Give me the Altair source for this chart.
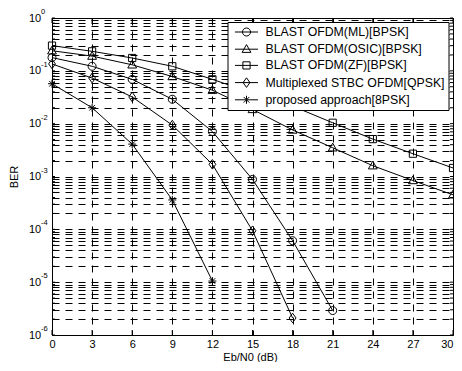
import altair as alt
import pandas as pd

# ---------------- data ----------------
snr = [0, 3, 6, 9, 12, 15, 18, 21, 24, 27, 30]

names = [
    "BLAST OFDM(ML)[BPSK]",
    "BLAST OFDM(OSIC)[BPSK]",
    "BLAST OFDM(ZF)[BPSK]",
    "Multiplexed STBC OFDM[QPSK]",
    "proposed approach[8PSK]",
]

ber_ml = [0.178, 0.122, 0.069, 0.029, 0.0071, 0.00088, 6.1e-5, 2.9e-6]
ber_osic = [0.24, 0.19, 0.13, 0.078, 0.043, 0.0186, 0.0076, 0.0035, 0.0016, 0.00084, 0.00045]
ber_zf = [0.30, 0.234, 0.175, 0.122, 0.069, 0.038, 0.0215, 0.0104, 0.0051, 0.0027, 0.00145]
ber_stbc = [0.135, 0.073, 0.032, 0.0094, 0.0017, 9.4e-5, 2.1e-6]
ber_prop = [0.057, 0.020, 0.0041, 0.00036, 1.05e-5]

x_ticks = [0, 3, 6, 9, 12, 15, 18, 21, 24, 27, 30]
decades = [1e-6, 1e-5, 1e-4, 1e-3, 1e-2, 1e-1, 1e0]
exponents = ["-6", "-5", "-4", "-3", "-2", "-1", "0"]
mantissas = [1, 2, 3, 4, 5, 6, 7, 8, 9]

# ---------------- tables ----------------
rows = []
for name, vals in zip(names, [ber_ml, ber_osic, ber_zf, ber_stbc, ber_prop]):
    for x, v in zip(snr, vals):
        rows.append({"snr": x, "ber": v, "name": name})
df = pd.DataFrame(rows)

y_grid = []
for d in decades:
    for m in mantissas:
        val = m * d
        if val <= 1.0000001:
            y_grid.append(val)
exp_df = pd.DataFrame({"v": decades, "e": exponents})
xt_df = pd.DataFrame({"t": x_ticks})
grid_minor = pd.DataFrame({"v": y_grid})

# marker paths (unit box [-1,1])
plot_paths = [
    "M-1,0A1,1,0,1,0,1,0A1,1,0,1,0,-1,0Z",
    "M0,-1.15L1.1,0.8L-1.1,0.8Z",
    "M-0.9,-0.9L0.9,-0.9L0.9,0.9L-0.9,0.9Z",
    "M0,-1.2L0.85,0L0,1.2L-0.85,0Z",
    "M-1,0L1,0M0,-1L0,1M-0.7,-0.7L0.7,0.7M-0.7,0.7L0.7,-0.7",
]
legend_paths = [
    "M-1.92,0L1.92,0M-0.67,0A0.67,0.67,0,1,0,0.67,0A0.67,0.67,0,1,0,-0.67,0Z",
    "M-1.92,0L1.92,0M0,-0.77L0.73,0.53L-0.73,0.53Z",
    "M-1.92,0L1.92,0M-0.6,-0.6L0.6,-0.6L0.6,0.6L-0.6,0.6Z",
    "M-1.92,0L1.92,0M0,-0.8L0.57,0L0,0.8L-0.57,0Z",
    "M-1.92,0L1.92,0M0,-0.67L0,0.67M-0.47,-0.47L0.47,0.47M-0.47,0.47L0.47,-0.47",
]

FONT = "Liberation Sans"
W, H = 401, 317

xscale = alt.Scale(domain=[0, 30], nice=False, zero=False)
yscale = alt.Scale(type="log", domain=[1e-6, 1], nice=False)

x_axis = alt.Axis(
    values=x_ticks, grid=True, gridColor="black", gridDash=[7, 6], gridWidth=1,
    gridOpacity=1, ticks=False, tickSize=0, domain=False, labelFont=FONT,
    labelFontSize=11, labelColor="black", labelPadding=3.5, labelFlush=False,
    labelAlign={"condition": {"test": "datum.value == 30", "value": "right"}, "value": "center"},
    title="Eb/N0 (dB)", titleFont=FONT, titleFontSize=11, titleFontWeight="normal",
    titleColor="black", titleX=198, titleY=22, titleBaseline="middle",
    titleAlign="center",
)
y_axis = alt.Axis(
    values=y_grid, grid=True, gridColor="black", gridDash=[7, 6], gridWidth=1,
    gridOpacity=1, ticks=False, tickSize=0, domain=False, labelFont=FONT,
    labelFontSize=11, labelColor="black", labelPadding=11.3, labelFlush=False,
    labelOverlap=False, labelBaseline="middle",
    labelExpr="abs(log(datum.value)/LN10 - round(log(datum.value)/LN10)) < 0.000001 ? '10' : ''",
    title="BER", titleFont=FONT, titleFontSize=11, titleFontWeight="normal",
    titleColor="black", titleX=-38, titleY=H / 2, titleBaseline="middle",
    titleAlign="center", titleAngle=-90,
)

base = alt.Chart(df)

lines = base.mark_line(color="black", strokeWidth=1).encode(
    x=alt.X("snr:Q", scale=xscale, axis=x_axis),
    y=alt.Y("ber:Q", scale=yscale, axis=y_axis),
    detail="name:N",
    order="snr:Q",
)

points = base.mark_point(filled=False, color="black", size=64, strokeWidth=1, opacity=1).encode(
    x=alt.X("snr:Q", scale=xscale),
    y=alt.Y("ber:Q", scale=yscale),
    shape=alt.Shape("name:N", scale=alt.Scale(domain=names, range=plot_paths), legend=None),
)

legend_layer = base.mark_point(filled=False, color="black", size=144, strokeWidth=1, opacity=1).encode(
    shape=alt.Shape(
        "name:N",
        scale=alt.Scale(domain=names, range=legend_paths),
        legend=alt.Legend(
            title=None, orient="none", legendX=175.5, legendY=4,
            fillColor="white", strokeColor="black", padding=3.5,
            symbolOffset=9, labelOffset=12.5, rowPadding=3.2,
            labelFont=FONT, labelFontSize=12.3, labelColor="black", labelLimit=400,
            symbolSize=144, symbolStrokeColor="black", symbolFillColor="transparent",
            symbolStrokeWidth=1, symbolType="circle", cornerRadius=0,
        ),
    ),
).transform_filter("false")

exps = alt.Chart(exp_df).mark_text(
    align="left", baseline="middle", font=FONT, fontSize=7.5, color="black", dy=-6
).encode(
    y=alt.Y("v:Q", scale=yscale),
    x=alt.value(-11),
    text="e:N",
)

# inward ticks (MATLAB style)
xt_bottom = alt.Chart(xt_df).mark_rule(color="black", strokeWidth=1).encode(
    x=alt.X("t:Q", scale=xscale), y=alt.value(H), y2=alt.value(H - 5)
)
xt_top = alt.Chart(xt_df).mark_rule(color="black", strokeWidth=1).encode(
    x=alt.X("t:Q", scale=xscale), y=alt.value(0), y2=alt.value(5)
)
yt_left = alt.Chart(grid_minor).mark_rule(color="black", strokeWidth=1).encode(
    y=alt.Y("v:Q", scale=yscale), x=alt.value(0), x2=alt.value(3)
)
yt_right = alt.Chart(grid_minor).mark_rule(color="black", strokeWidth=1).encode(
    y=alt.Y("v:Q", scale=yscale), x=alt.value(W - 3), x2=alt.value(W)
)

chart = (
    alt.layer(lines, xt_bottom, xt_top, yt_left, yt_right, points, legend_layer, exps)
    .resolve_scale(shape="independent")
    .properties(
        width=W, height=H,
        autosize=alt.AutoSizeParams(type="none"),
        padding={"left": 44, "top": 10, "right": 1, "bottom": 27},
        background="white",
    )
    .configure_view(stroke="black", strokeWidth=1)
)

chart.save("out.html", embed_options={"renderer": "svg", "actions": False})
